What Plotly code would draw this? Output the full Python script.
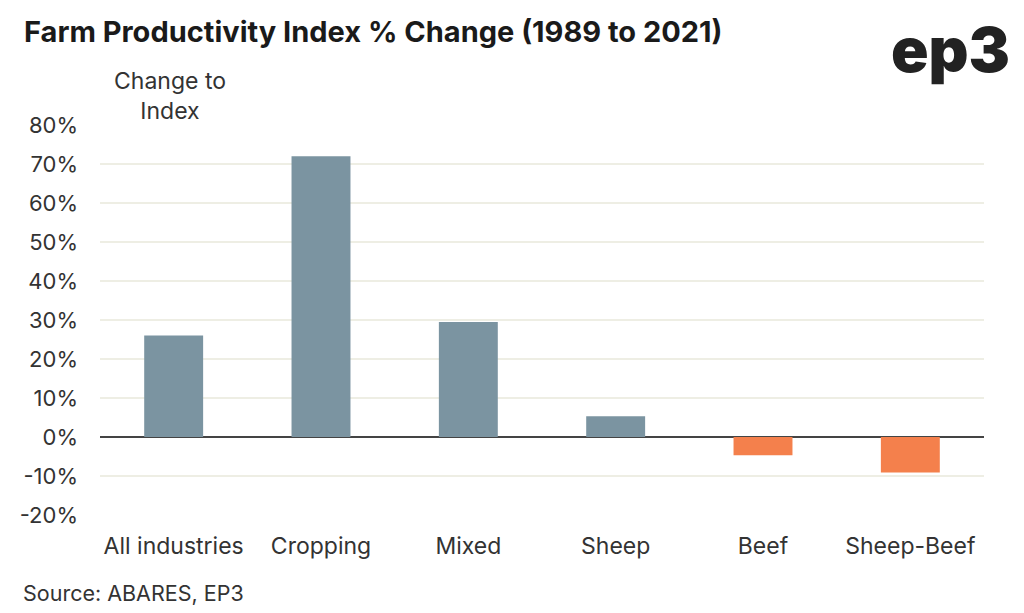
import plotly.graph_objects as go

categories = ["All industries", "Cropping", "Mixed", "Sheep", "Beef", "Sheep-Beef"]
values = [26.0, 72.0, 29.5, 5.3, -4.7, -9.1]
tick_vals = [-20, -10, 0, 10, 20, 30, 40, 50, 60, 70, 80]
tick_text = [f"{v}%" for v in tick_vals]

colors = ["#7b94a1" if v >= 0 else "#f4804c" for v in values]

FONT = "Inter"

# page is offset by the body's 8px margin
OFF = 8
W, H = 1016, 605
L, R, T, B = 95 - OFF, 40, 125 - OFF, 98
PW, PH = W - L - R, H - T - B


def px(x):
    return (x - OFF - L) / PW


def py(y):
    return 1 - (y - OFF - T) / PH


fig = go.Figure(go.Bar(
    x=categories, y=values, marker=dict(color=colors, line=dict(width=0)),
    width=0.4,
))

fig.update_layout(
    width=W, height=H,
    margin=dict(l=L, r=R, t=T, b=B),
    paper_bgcolor="white", plot_bgcolor="white",
    showlegend=False,
    font=dict(family=FONT, color="#333333"),
    xaxis=dict(showgrid=False, showline=False, ticks="", ticklabelstandoff=15,
               tickfont=dict(size=23, color="#333333", family=FONT)),
    yaxis=dict(range=[-20, 80], tickvals=tick_vals, ticktext=tick_text,
               showgrid=True, gridcolor="#eeeee4", gridwidth=1.5,
               zeroline=True, zerolinecolor="#444444", zerolinewidth=2,
               showline=False, ticks="", ticklabelstandoff=21,
               tickfont=dict(size=22, color="#333333", family=FONT)),
    annotations=[
        dict(text="<b>Farm Productivity Index % Change (1989 to 2021)</b>",
             x=px(17), y=py(32), xref="paper", yref="paper", showarrow=False,
             xanchor="left", yanchor="middle",
             font=dict(size=29, color="#1a1a1a", family=FONT, weight=800)),
        dict(text="ep3", x=px(1012), y=py(49), xref="paper", yref="paper", showarrow=False,
             xanchor="right", yanchor="middle",
             font=dict(size=62, color="#222222", family=FONT, weight=900)),
        dict(text="Change to<br>Index", x=px(165), y=py(96), xref="paper", yref="paper", showarrow=False,
             xanchor="center", yanchor="middle", align="center",
             font=dict(size=23, color="#333333", family=FONT)),
        dict(text="Source: ABARES, EP3", x=px(16), y=py(593), xref="paper", yref="paper", showarrow=False,
             xanchor="left", yanchor="middle", font=dict(size=21.5, color="#333333", family=FONT)),
    ],
)

fig.write_html("out.html")
